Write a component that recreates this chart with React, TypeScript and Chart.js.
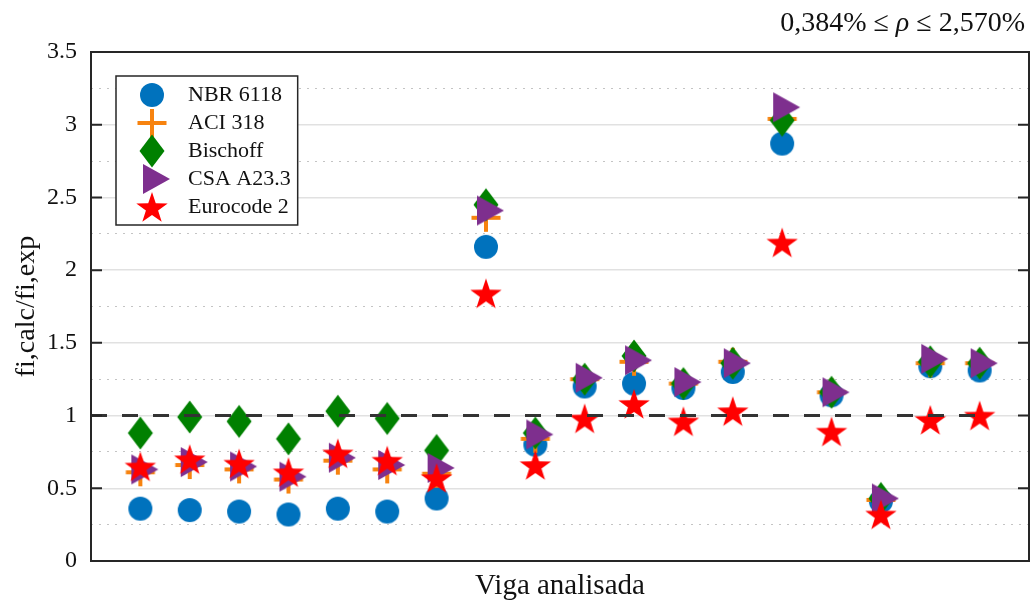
import React, { useEffect, useRef } from 'react';
import { Chart, registerables } from 'chart.js';

Chart.register(...registerables);

// ---- data ----
const beams = [1, 2, 3, 4, 5, 6, 7, 8, 9, 10, 11, 12, 13, 14, 15, 16, 17, 18];
const nbr6118 = [0.36, 0.35, 0.34, 0.32, 0.36, 0.34, 0.43, 2.16, 0.80, 1.20, 1.22, 1.19, 1.30, 2.87, 1.14, 0.41, 1.34, 1.31];
const aci318 = [0.61, 0.66, 0.63, 0.56, 0.69, 0.63, 0.60, 2.36, 0.84, 1.25, 1.37, 1.22, 1.37, 3.04, 1.16, 0.42, 1.36, 1.36];
const bischoff = [0.88, 0.99, 0.96, 0.84, 1.03, 0.98, 0.76, 2.45, 0.88, 1.25, 1.41, 1.22, 1.36, 3.03, 1.16, 0.43, 1.37, 1.36];
const csaA233 = [0.63, 0.68, 0.65, 0.58, 0.71, 0.66, 0.64, 2.41, 0.87, 1.26, 1.38, 1.23, 1.36, 3.12, 1.16, 0.43, 1.39, 1.36];
const eurocode2 = [0.65, 0.70, 0.67, 0.61, 0.74, 0.69, 0.57, 1.84, 0.66, 0.98, 1.08, 0.96, 1.03, 2.19, 0.89, 0.32, 0.97, 1.00];
const seriesNames = ['NBR 6118', 'ACI 318', 'Bischoff', 'CSA A23.3', 'Eurocode 2'];
const refLineX = [0, 18];
const refLineY = [1, 1];
const yMajorTicks = [0, 0.5, 1, 1.5, 2, 2.5, 3, 3.5];
const yMinorTicks = [0.25, 0.75, 1.25, 1.75, 2.25, 2.75, 3.25];
const yTitle = 'fi,calc/fi,exp';
const xTitle = 'Viga analisada';
const rhoLeft = '0,384% ≤ ';
const rhoSymbol = 'ρ';
const rhoRight = ' ≤ 2,570%';

const FONT = "'Liberation Serif', 'Times New Roman', serif";

function markerCanvas(w: number, h: number, draw: (c: CanvasRenderingContext2D) => void) {
  const c = document.createElement('canvas');
  c.width = w;
  c.height = h;
  const ctx = c.getContext('2d') as CanvasRenderingContext2D;
  draw(ctx);
  return c;
}

function makeMarkers() {
  const circle = markerCanvas(26, 26, (c) => {
    c.fillStyle = '#0072BD';
    c.beginPath();
    c.arc(13, 13, 12, 0, Math.PI * 2);
    c.fill();
  });
  const cross = markerCanvas(32, 32, (c) => {
    c.strokeStyle = '#F7830F';
    c.lineWidth = 4;
    c.beginPath();
    c.moveTo(1.5, 16);
    c.lineTo(30.5, 16);
    c.moveTo(16, 2);
    c.lineTo(16, 30);
    c.stroke();
  });
  const diamond = markerCanvas(28, 36, (c) => {
    c.fillStyle = '#008000';
    c.beginPath();
    c.moveTo(14, 1.5);
    c.lineTo(26.5, 18);
    c.lineTo(14, 34.5);
    c.lineTo(1.5, 18);
    c.closePath();
    c.fill();
  });
  const triangle = markerCanvas(38, 32, (c) => {
    c.fillStyle = '#7E2F8E';
    c.beginPath();
    c.moveTo(10, 1);
    c.lineTo(37, 16);
    c.lineTo(10, 31);
    c.closePath();
    c.fill();
  });
  const star = markerCanvas(36, 36, (c) => {
    c.fillStyle = '#FF0000';
    c.beginPath();
    const cx = 18, cy = 19.5, R = 16.5, r = 6.4;
    for (let i = 0; i < 10; i++) {
      const rad = i % 2 === 0 ? R : r;
      const a = -Math.PI / 2 + (i * Math.PI) / 5;
      const px = cx + rad * Math.cos(a);
      const py = cy + rad * Math.sin(a);
      if (i === 0) c.moveTo(px, py);
      else c.lineTo(px, py);
    }
    c.closePath();
    c.fill();
  });
  return [circle, cross, diamond, triangle, star];
}

const isMajor = (v: number) => Math.abs(v * 2 - Math.round(v * 2)) < 1e-6;

export default function App() {
  const ref = useRef<HTMLCanvasElement | null>(null);

  useEffect(() => {
    document.body.style.margin = '0';
    const canvas = ref.current;
    if (!canvas) return;
    const markers = makeMarkers();
    const series = [nbr6118, aci318, bischoff, csaA233, eurocode2];

    const datasets: any[] = series.map((vals, si) => ({
      type: 'scatter',
      label: seriesNames[si],
      data: beams.map((b, i) => ({ x: b, y: vals[i] })),
      pointStyle: markers[si],
      pointRadius: 12,
      pointHoverRadius: 12,
      order: 6 - si,
    }));
    datasets.push({
      type: 'line',
      label: 'ref',
      data: refLineX.map((x, i) => ({ x, y: refLineY[i] })),
      borderColor: '#333333',
      borderWidth: 3,
      borderDash: [16, 15],
      pointRadius: 0,
      fill: false,
      order: 1,
    });

    const legendPlacement = {
      id: 'legendPlacement',
      afterLayout(chart: any) {
        const lg = chart.legend;
        if (!lg) return;
        const ca = chart.chartArea;
        const w = lg.width;
        const h = lg.height;
        lg.left = ca.left + 30;
        lg.top = ca.top + 26;
        lg.right = lg.left + w;
        lg.bottom = lg.top + h;
      },
    };

    const legendFrame = {
      id: 'legendFrame',
      beforeDatasetsDraw(chart: any) {
        const lg = chart.legend;
        if (!lg || !lg.legendHitBoxes || !lg.legendHitBoxes.length) return;
        const hb = lg.legendHitBoxes;
        let right = 0;
        let bottom = 0;
        hb.forEach((b: any) => {
          right = Math.max(right, b.left + b.width);
          bottom = Math.max(bottom, b.top + b.height);
        });
        const ctx = chart.ctx;
        const x0 = lg.left - 5;
        const y0 = lg.top - 2;
        const x1 = right + 7;
        const y1 = bottom + 7;
        ctx.save();
        ctx.fillStyle = '#ffffff';
        ctx.fillRect(x0, y0, x1 - x0, y1 - y0);
        ctx.strokeStyle = '#262626';
        ctx.lineWidth = 1.5;
        ctx.strokeRect(x0, y0, x1 - x0, y1 - y0);
        ctx.restore();
        lg.draw();
      },
    };

    const frame = {
      id: 'frame',
      afterDraw(chart: any) {
        const { ctx, chartArea: ca, scales } = chart;
        const y = scales.y;
        ctx.save();
        ctx.strokeStyle = '#262626';
        ctx.lineWidth = 2;
        ctx.strokeRect(ca.left, ca.top, ca.right - ca.left, ca.bottom - ca.top);
        ctx.beginPath();
        yMajorTicks.forEach((v) => {
          const py = y.getPixelForValue(v);
          ctx.moveTo(ca.left, py);
          ctx.lineTo(ca.left + 11, py);
          ctx.moveTo(ca.right - 11, py);
          ctx.lineTo(ca.right, py);
        });
        ctx.stroke();

        // top-right annotation
        const size = 28;
        const normal = `${size}px ${FONT}`;
        const italic = `italic ${size}px ${FONT}`;
        ctx.fillStyle = '#111111';
        ctx.textBaseline = 'alphabetic';
        ctx.font = normal;
        const wR = ctx.measureText(rhoRight).width;
        const wL = ctx.measureText(rhoLeft).width;
        ctx.font = italic;
        const wS = ctx.measureText(rhoSymbol).width;
        let x = chart.width - 5 - (wL + wS + wR);
        const by = 31;
        ctx.textAlign = 'left';
        ctx.font = normal;
        ctx.fillText(rhoLeft, x, by);
        x += wL;
        ctx.font = italic;
        ctx.fillText(rhoSymbol, x, by);
        x += wS;
        ctx.font = normal;
        ctx.fillText(rhoRight, x, by);
        ctx.restore();
      },
    };

    const chart = new Chart(canvas, {
      type: 'scatter',
      data: { datasets },
      options: {
        animation: false,
        responsive: false,
        events: [],
        layout: { autoPadding: false, padding: { top: 52, right: 1, bottom: 0, left: 0 } },
        plugins: {
          tooltip: { enabled: false },
          title: { display: false },
          legend: {
            display: true,
            position: 'chartArea',
            align: 'start',
            labels: {
              usePointStyle: true,
              pointStyleWidth: 50,
              padding: 6,
              color: '#111111',
              font: { family: FONT, size: 22 },
              filter: (item: any) => item.datasetIndex < 5,
              sort: (a: any, b: any) => a.datasetIndex - b.datasetIndex,
            },
          },
        },
        scales: {
          x: {
            type: 'linear',
            min: 0,
            max: 19,
            grid: { display: false },
            border: { display: false },
            ticks: { display: false },
            title: {
              display: true,
              text: xTitle,
              color: '#111111',
              font: { family: FONT, size: 29 },
              padding: { top: 0, bottom: 2 },
            },
            afterFit: (s: any) => {
              s.height = 45;
            },
          },
          y: {
            type: 'linear',
            min: 0,
            max: 3.5,
            afterBuildTicks: (s: any) => {
              s.ticks = [...yMajorTicks, ...yMinorTicks].sort((a, b) => a - b).map((v) => ({ value: v }));
            },
            ticks: {
              autoSkip: false,
              padding: 14,
              color: '#111111',
              font: { family: FONT, size: 24 },
              callback: (v: any) => (isMajor(Number(v)) ? String(Number(v)) : ''),
            },
            grid: {
              drawTicks: false,
              color: (ctx: any) => (ctx.tick && isMajor(ctx.tick.value) ? '#e1e1e1' : '#c4c4c4'),
              lineWidth: (ctx: any) => (ctx.tick && isMajor(ctx.tick.value) ? 1.5 : 1),
            },
            border: {
              display: false,
              dash: (ctx: any) => (ctx.tick && !isMajor(ctx.tick.value) ? [2, 6] : []),
            },
            title: {
              display: true,
              text: yTitle,
              color: '#111111',
              font: { family: FONT, size: 28 },
              padding: { top: 10, bottom: 0 },
            },
            afterFit: (s: any) => {
              s.width = 91;
            },
          },
        },
      } as any,
      plugins: [legendPlacement, legendFrame, frame],
    });
    return () => chart.destroy();
  }, []);

  return (
    <div style={{ width: 1030, height: 606 }}>
      <canvas ref={ref} width={1030} height={606} style={{ display: 'block' }} />
    </div>
  );
}
